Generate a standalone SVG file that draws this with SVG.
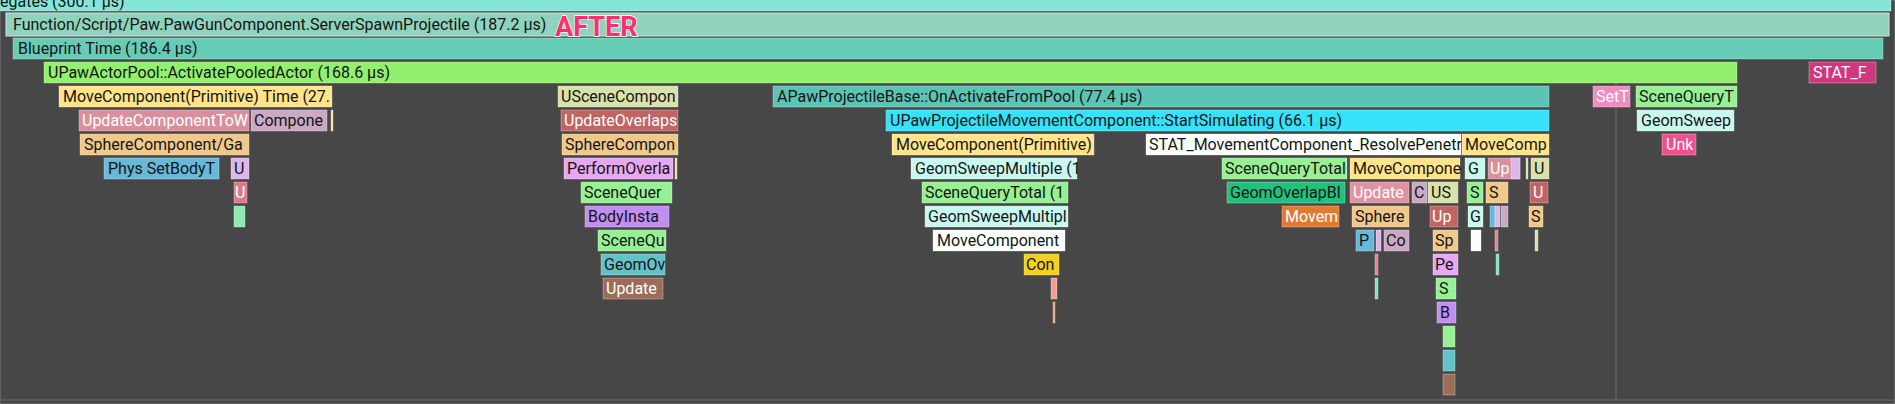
<svg xmlns="http://www.w3.org/2000/svg" width="1895" height="404" viewBox="0 0 1895 404">
<style>
rect{stroke:rgba(255,255,255,0.3);stroke-width:1}
text{font-family:Roboto,"Liberation Sans",sans-serif;font-size:16px;fill:#141414}
text.w{fill:#fff}
.after{font-family:Roboto,"Liberation Sans",sans-serif;font-weight:bold;font-size:27px;fill:#ff2d6e;stroke:#fff;stroke-width:1.5;paint-order:stroke}
.teal0{fill:#84e6d8}.fn{fill:#8fd2bd;stroke:#e0e0e0}.bp{fill:#66ccb6}.lime{fill:#92f06e}
.yel{fill:#ffe48a}.pink{fill:#d8909c}.lav{fill:#c9a9c3}.sand{fill:#f0c88a}.blue{fill:#68b8d8}
.lil{fill:#dab8ea}.rose{fill:#d87c8c}.mint{fill:#90e8b0}.olive{fill:#d9e2aa}.red{fill:#c06464}
.vio{fill:#e6a8f0}.green{fill:#98f094}.purp{fill:#c08ff0}.cyan2{fill:#62c2c8}.brown{fill:#9c6e5a}
.ap{fill:#5cc4b4}.cy{fill:#36e2f8}.pale{fill:#c8f8ee}.white{fill:#fafffc}.gold{fill:#f0d020}
.setp{fill:#f08cc0}.unk{fill:#f0508e}.stat{fill:#d0387e}.emer{fill:#22c07e}.orng{fill:#e07a32}
.pnk2{fill:#e092a2}.salm{fill:#f0a090}
</style>
<rect x="0" y="0" width="1895" height="404" fill="#474747" stroke="none"/>
<line x1="1616" y1="78" x2="1616" y2="400" stroke="#5c5c5c" stroke-width="2"/>
<line x1="0" y1="400" x2="1895" y2="400" stroke="#5a5a5a" stroke-width="2"/>
<g id="n0"><rect class="teal0" x="-2" y="-8" width="1893" height="19"/><text x="0" y="7">egates (300.1 µs)</text></g>
<g id="n1"><rect class="fn" x="6" y="13" width="1883" height="23"/><text x="13" y="30">Function/Script/Paw.PawGunComponent.ServerSpawnProjectile (187.2 µs)</text></g>
<text class="after" x="555" y="36">AFTER</text>
<g id="n2"><rect class="bp" x="13" y="38" width="1870" height="21"/><text x="18" y="54">Blueprint Time (186.4 µs)</text></g>
<g id="n3"><rect class="lime" x="44" y="62" width="1693" height="21"/><text x="48" y="78">UPawActorPool::ActivatePooledActor (168.6 µs)</text></g>
<g id="n4"><rect class="stat" x="1809" y="62" width="67" height="21"/><text class="w" x="1813" y="78">STAT_F</text></g>
<g id="n5"><rect class="yel" x="59" y="86" width="273" height="21"/><text x="63" y="102">MoveComponent(Primitive) Time (27.</text></g>
<g id="n6"><rect class="olive" x="558" y="86" width="120" height="21"/><text x="561" y="102">USceneCompon</text></g>
<g id="n7"><rect class="ap" x="773" y="86" width="776" height="21"/><text x="777" y="102">APawProjectileBase::OnActivateFromPool (77.4 µs)</text></g>
<g id="n8"><rect class="setp" x="1593" y="86" width="37" height="21"/><text class="w" x="1596" y="102">SetT</text></g>
<g id="n9"><rect class="green" x="1636" y="86" width="101" height="21"/><text x="1639" y="102">SceneQueryT</text></g>
<g id="n10"><rect class="pink" x="79" y="110" width="170" height="21"/><text class="w" x="82" y="126">UpdateComponentToW</text></g>
<g id="n11"><rect class="lav" x="251" y="110" width="76" height="21"/><text x="254" y="126">Compone</text></g>
<g id="n12"><rect fill="#f0e0a0" x="331" y="110" width="2" height="21"/></g>
<g id="n13"><rect class="red" x="561" y="110" width="117" height="21"/><text class="w" x="564" y="126">UpdateOverlaps</text></g>
<g id="n14"><rect class="cy" x="886" y="110" width="663" height="21"/><text x="890" y="126">UPawProjectileMovementComponent::StartSimulating (66.1 µs)</text></g>
<g id="n15"><rect class="pale" x="1637" y="110" width="97" height="21"/><text x="1641" y="126">GeomSweep</text></g>
<g id="n16"><rect class="sand" x="80" y="134" width="169" height="21"/><text x="84" y="150">SphereComponent/Ga</text></g>
<g id="n17"><rect class="sand" x="562" y="134" width="116" height="21"/><text x="565" y="150">SphereCompon</text></g>
<g id="n18"><rect class="yel" x="892" y="134" width="202" height="21"/><text x="896" y="150">MoveComponent(Primitive)</text></g>
<g id="n19"><rect class="white" x="1146" y="134" width="315" height="21"/><text x="1149" y="150">STAT_MovementComponent_ResolvePenetr</text></g>
<g id="n20"><rect class="yel" x="1462" y="134" width="87" height="21"/><text x="1465" y="150">MoveComp</text></g>
<g id="n21"><rect class="unk" x="1662" y="134" width="34" height="21"/><text class="w" x="1666" y="150">Unk</text></g>
<g id="n22"><rect class="blue" x="104" y="158" width="115" height="21"/><text x="108" y="174">Phys SetBodyT</text></g>
<g id="n23"><rect class="lil" x="231" y="158" width="18" height="21"/><text x="234" y="174">U</text></g>
<g id="n24"><rect class="vio" x="564" y="158" width="109" height="21"/><text x="567" y="174">PerformOverla</text><rect fill="#f0e0a0" x="675" y="158" width="2" height="21"/></g>
<g id="n25"><rect class="pale" x="911" y="158" width="166" height="21"/><text x="915" y="174">GeomSweepMultiple (1</text></g>
<g id="n26"><rect class="green" x="1222" y="158" width="125" height="21"/><text x="1225" y="174">SceneQueryTotal</text></g>
<g id="n27"><rect class="yel" x="1350" y="158" width="110" height="21"/><text x="1353" y="174">MoveCompone</text></g>
<g id="n28"><rect class="pale" x="1465" y="158" width="20" height="21"/><text x="1468" y="174">G</text></g>
<g id="n29"><rect class="pink" x="1488" y="158" width="32" height="21"/><rect class="lil" x="1511" y="158" width="9" height="21"/><text class="w" x="1490" y="174">Up</text></g>
<g id="n30"><rect fill="#d9e2aa" x="1526" y="158" width="2" height="21"/><rect class="olive" x="1531" y="158" width="18" height="21"/><text x="1534" y="174">U</text></g>
<g id="n31"><rect class="rose" x="234" y="182" width="13" height="21"/><text class="w" x="235" y="198">U</text></g>
<g id="n32"><rect class="green" x="581" y="182" width="91" height="21"/><text x="584" y="198">SceneQuer</text></g>
<g id="n33"><rect class="green" x="922" y="182" width="146" height="21"/><text x="925" y="198">SceneQueryTotal (1</text></g>
<g id="n34"><rect class="emer" x="1227" y="182" width="118" height="21"/><text x="1230" y="198">GeomOverlapBl</text></g>
<g id="n35"><rect class="pnk2" x="1350" y="182" width="59" height="21"/><text class="w" x="1353" y="198">Update</text></g>
<g id="n36"><rect class="lav" x="1412" y="182" width="15" height="21"/><text x="1414" y="198">C</text></g>
<g id="n37"><rect class="olive" x="1428" y="182" width="30" height="21"/><text x="1431" y="198">US</text></g>
<g id="n38"><rect class="green" x="1467" y="182" width="16" height="21"/><text x="1470" y="198">S</text></g>
<g id="n39"><rect class="sand" x="1486" y="182" width="22" height="21"/><text x="1489" y="198">S</text></g>
<g id="n40"><rect class="red" x="1530" y="182" width="18" height="21"/><text class="w" x="1533" y="198">U</text></g>
<g id="n41"><rect class="mint" x="234" y="206" width="11" height="21"/></g>
<g id="n42"><rect class="purp" x="585" y="206" width="84" height="21"/><text x="588" y="222">BodyInsta</text></g>
<g id="n43"><rect class="pale" x="925" y="206" width="143" height="21"/><text x="928" y="222">GeomSweepMultipl</text></g>
<g id="n44"><rect class="orng" x="1282" y="206" width="57" height="21"/><text class="w" x="1285" y="222">Movem</text></g>
<g id="n45"><rect class="sand" x="1352" y="206" width="57" height="21"/><text x="1355" y="222">Sphere</text></g>
<g id="n46"><rect class="red" x="1430" y="206" width="28" height="21"/><text class="w" x="1432" y="222">Up</text></g>
<g id="n47"><rect class="pale" x="1468" y="206" width="15" height="21"/><text x="1470" y="222">G</text></g>
<g id="n48"><rect class="blue" x="1490" y="206" width="5" height="21"/><rect class="lil" x="1495" y="206" width="5" height="21"/><rect class="lav" x="1501" y="206" width="7" height="21"/></g>
<g id="n49"><rect class="sand" x="1529" y="206" width="14" height="21"/><text x="1531" y="222">S</text></g>
<g id="n50"><rect class="green" x="598" y="230" width="68" height="21"/><text x="601" y="246">SceneQu</text></g>
<g id="n51"><rect class="white" x="933" y="230" width="132" height="21"/><text x="937" y="246">MoveComponent</text></g>
<g id="n52"><rect class="blue" x="1356" y="230" width="18" height="21"/><text x="1359" y="246">P</text></g>
<g id="n53"><rect class="lil" x="1376" y="230" width="5" height="21"/></g>
<g id="n54"><rect class="lav" x="1384" y="230" width="25" height="21"/><text x="1386" y="246">Co</text></g>
<g id="n55"><rect class="sand" x="1433" y="230" width="25" height="21"/><text x="1435" y="246">Sp</text></g>
<g id="n56"><rect class="white" x="1471" y="230" width="10" height="21"/></g>
<g id="n57"><rect fill="#e88090" x="1495" y="230" width="3" height="21" stroke="none"/></g>
<g id="n58"><rect fill="#d9e2aa" x="1535" y="230" width="3" height="21" stroke="none"/></g>
<g id="n59"><rect class="cyan2" x="601" y="254" width="64" height="21"/><text x="604" y="270">GeomOv</text></g>
<g id="n60"><rect class="gold" x="1024" y="254" width="35" height="21"/><text x="1026" y="270">Con</text></g>
<g id="n61"><rect fill="#e88090" x="1375" y="254" width="3" height="21" stroke="none"/></g>
<g id="n62"><rect class="vio" x="1433" y="254" width="25" height="21"/><text x="1435" y="270">Pe</text></g>
<g id="n63"><rect fill="#80e0c8" x="1496" y="254" width="3" height="21" stroke="none"/></g>
<g id="n64"><rect class="brown" x="603" y="278" width="60" height="21"/><text class="w" x="606" y="294">Update</text></g>
<g id="n65"><rect class="salm" x="1051" y="278" width="6" height="21"/></g>
<g id="n66"><rect fill="#80e0c8" x="1375" y="278" width="3" height="21" stroke="none"/></g>
<g id="n67"><rect class="green" x="1436" y="278" width="20" height="21"/><text x="1439" y="294">S</text></g>
<g id="n68"><rect fill="#f0a070" x="1053" y="302" width="2" height="21" stroke="none"/></g>
<g id="n69"><rect class="purp" x="1437" y="302" width="19" height="21"/><text x="1440" y="318">B</text></g>
<g id="n70"><rect class="green" x="1443" y="326" width="12" height="21"/></g>
<g id="n71"><rect class="cyan2" x="1443" y="350" width="12" height="21"/></g>
<g id="n72"><rect class="brown" x="1443" y="374" width="12" height="21"/></g>
</svg>
